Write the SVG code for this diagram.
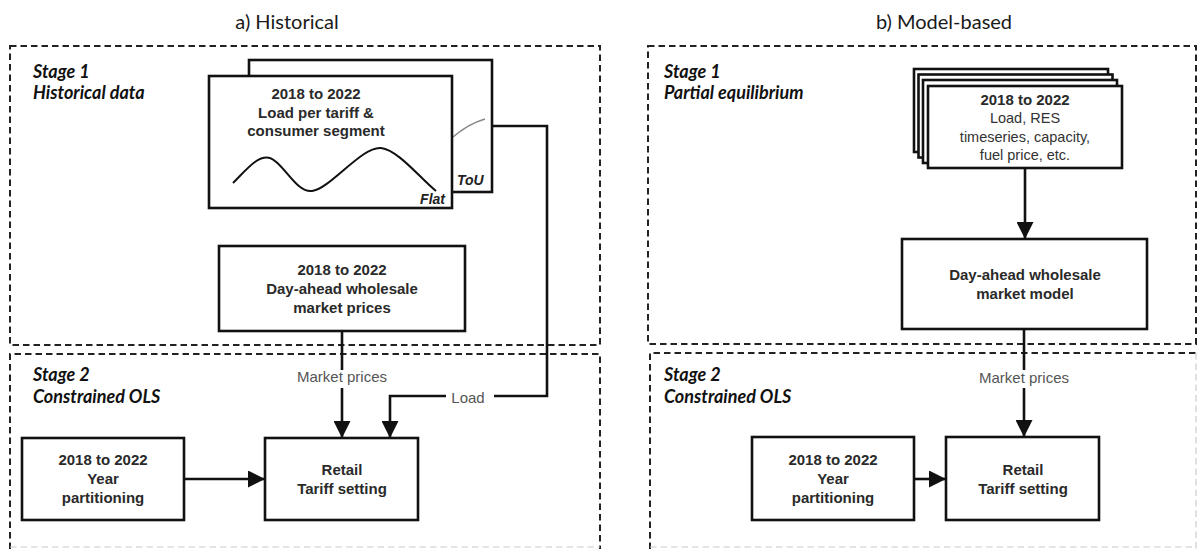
<svg xmlns="http://www.w3.org/2000/svg" width="1199" height="549" viewBox="0 0 1199 549">
<style>
.title{font-family:Lato,"Open Sans",sans-serif;font-size:20px;fill:#1a1a1a;text-anchor:middle}
.stage{font-family:Lato,"Open Sans",sans-serif;font-size:18px;font-weight:bold;font-style:italic;fill:#111}
.panel{fill:none;stroke:#222;stroke-width:2;stroke-dasharray:6.5 4}
.faint{fill:none;stroke:#ccc;stroke-width:1.2;stroke-dasharray:6.5 4}
.box{fill:#fff;stroke:#111;stroke-width:2.6}
.bt{font-family:"Liberation Sans",Arial,sans-serif;font-size:15px;font-weight:bold;fill:#2a2a2a;text-anchor:middle}
.rt{font-family:"Liberation Sans",Arial,sans-serif;font-size:14.5px;fill:#333;text-anchor:middle}
.lbl{font-family:"Liberation Sans",Arial,sans-serif;font-size:15px;fill:#555;text-anchor:middle}
.tag{font-family:"Liberation Sans",Arial,sans-serif;font-size:14px;font-weight:bold;font-style:italic;fill:#222}
.conn{fill:none;stroke:#111;stroke-width:2.6}
</style>
<defs>
<marker id="ah" markerUnits="userSpaceOnUse" markerWidth="17" markerHeight="17" refX="16" refY="8" orient="auto" viewBox="0 0 16 16">
<path d="M0,0 L16,8 L0,16 z" fill="#111"/>
</marker>
</defs>

<g id="titles">
<text class="title" x="287" y="29">a) Historical</text>
<text class="title" x="944" y="29">b) Model-based</text>
</g>

<g id="panels">
<rect class="panel" x="10" y="46" width="590" height="299"/>
<path class="panel" d="M10,549 V354 H600 V549"/>
<path class="faint" d="M10,547 H600"/>
<rect class="panel" x="648" y="46" width="548" height="298"/>
<path class="panel" d="M650,549 V353 H1196"/>
<path class="faint" d="M1196,353 V549 M650,547 H1196"/>
<text class="stage" x="33" y="78">Stage 1</text>
<text class="stage" x="33" y="99">Historical data</text>
<text class="stage" x="33" y="381">Stage 2</text>
<text class="stage" x="33" y="403">Constrained OLS</text>
<text class="stage" x="664" y="78">Stage 1</text>
<text class="stage" x="664" y="99">Partial equilibrium</text>
<text class="stage" x="664" y="381">Stage 2</text>
<text class="stage" x="664" y="403">Constrained OLS</text>
</g>

<g id="load-data">
<rect class="box" x="249" y="60" width="243" height="132"/>
<path d="M453,137 Q468,124 485,119" fill="none" stroke="#888" stroke-width="1.5"/>
<text class="tag" x="457" y="185">ToU</text>
<rect class="box" x="209" y="76" width="243" height="132"/>
<text class="bt" x="316" y="99">2018 to 2022</text>
<text class="bt" x="316" y="118">Load per tariff &amp;</text>
<text class="bt" x="316" y="136">consumer segment</text>
<path d="M233,183 C248,168 258,155 270,158 C283,162 296,193 312,191 C330,189 362,146 381,148 C398,150 420,178 436,191" fill="none" stroke="#111" stroke-width="2"/>
<text class="tag" x="445" y="204" text-anchor="end">Flat</text>
</g>

<g id="market-prices-hist">
<rect class="box" x="219" y="246" width="246" height="85"/>
<text class="bt" x="342" y="275">2018 to 2022</text>
<text class="bt" x="342" y="294">Day-ahead wholesale</text>
<text class="bt" x="342" y="313">market prices</text>
</g>

<g id="year-hist">
<rect class="box" x="22" y="438" width="162" height="82"/>
<text class="bt" x="103" y="465">2018 to 2022</text>
<text class="bt" x="103" y="484">Year</text>
<text class="bt" x="103" y="503">partitioning</text>
</g>

<g id="retail-hist">
<rect class="box" x="265" y="438" width="153" height="82"/>
<text class="bt" x="342" y="475">Retail</text>
<text class="bt" x="342" y="494">Tariff setting</text>
</g>

<g id="inputs-model">
<rect class="box" x="914" y="69" width="194" height="83"/>
<rect class="box" x="918.5" y="74.5" width="194" height="83"/>
<rect class="box" x="923" y="80" width="194" height="83"/>
<rect class="box" x="928" y="86" width="194" height="82"/>
<text class="bt" x="1025" y="105">2018 to 2022</text>
<text class="rt" x="1025" y="123">Load, RES</text>
<text class="rt" x="1025" y="142">timeseries, capacity,</text>
<text class="rt" x="1025" y="160">fuel price, etc.</text>
</g>

<g id="market-model">
<rect class="box" x="902" y="239" width="245" height="90"/>
<text class="bt" x="1025" y="280">Day-ahead wholesale</text>
<text class="bt" x="1025" y="299">market model</text>
</g>

<g id="year-model">
<rect class="box" x="752" y="437" width="162" height="83"/>
<text class="bt" x="833" y="465">2018 to 2022</text>
<text class="bt" x="833" y="484">Year</text>
<text class="bt" x="833" y="503">partitioning</text>
</g>

<g id="retail-model">
<rect class="box" x="946" y="437" width="153" height="83"/>
<text class="bt" x="1023" y="475">Retail</text>
<text class="bt" x="1023" y="494">Tariff setting</text>
</g>

<g id="connectors">
<path class="conn" d="M342,331 V370"/>
<text class="lbl" x="342" y="382">Market prices</text>
<path class="conn" d="M342,388 V438" marker-end="url(#ah)"/>
<path class="conn" d="M492,126 H547 V396 H494"/>
<text class="lbl" x="468" y="403">Load</text>
<path class="conn" d="M446,396 H390 V438" marker-end="url(#ah)"/>
<path class="conn" d="M184,479 H265" marker-end="url(#ah)"/>
<path class="conn" d="M1025,168 V239" marker-end="url(#ah)"/>
<path class="conn" d="M1024,329 V370"/>
<text class="lbl" x="1024" y="383">Market prices</text>
<path class="conn" d="M1024,388 V437" marker-end="url(#ah)"/>
<path class="conn" d="M914,479 H946" marker-end="url(#ah)"/>
</g>
</svg>
